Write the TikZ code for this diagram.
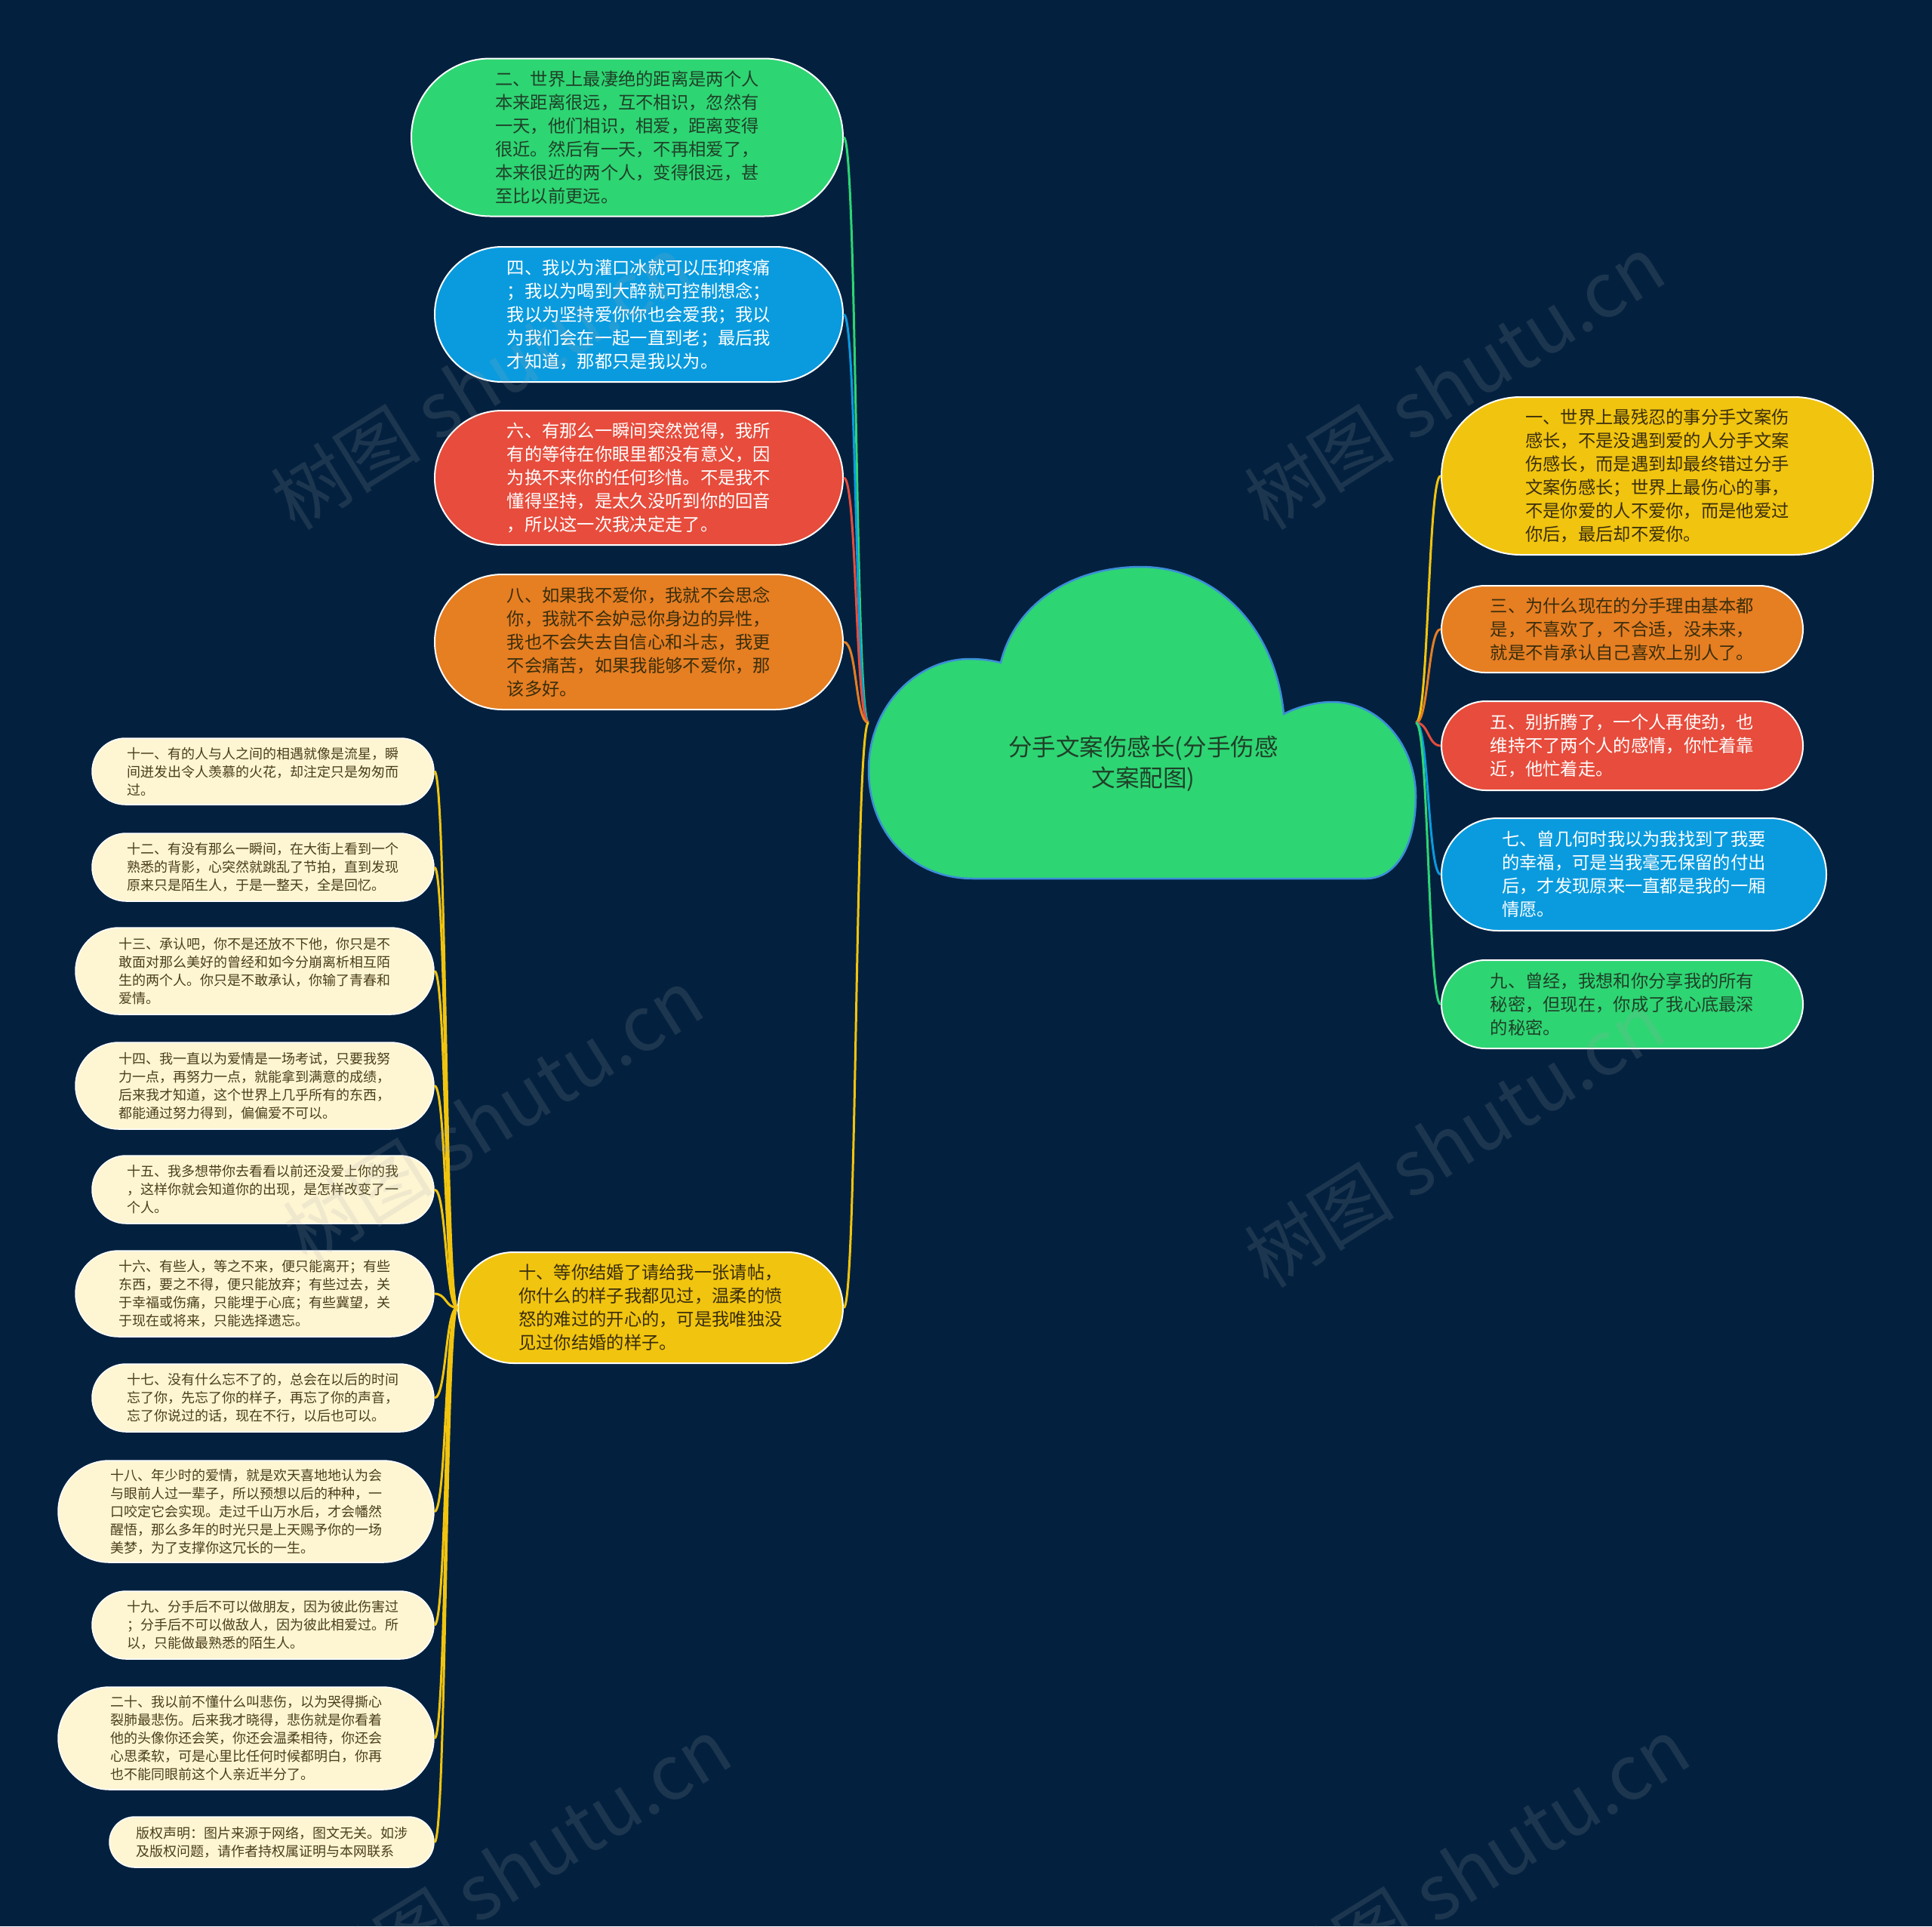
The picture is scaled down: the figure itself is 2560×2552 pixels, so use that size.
\documentclass[tikz,border=0pt]{standalone}
\usepackage{fontspec}
\setmainfont{Noto Sans CJK SC}
\usetikzlibrary{shapes.misc}
\definecolor{bg}{HTML}{03213F}
\definecolor{cgreen}{HTML}{2ED573}
\definecolor{cblue}{HTML}{0A9BDE}
\definecolor{cred}{HTML}{E74C3C}
\definecolor{corange}{HTML}{E67E22}
\definecolor{cyellow}{HTML}{F1C40F}
\definecolor{ccream}{HTML}{FEF5D3}
\definecolor{tgreen}{HTML}{1F4028}
\definecolor{tdark}{HTML}{3A2E0C}
\definecolor{tleaf}{HTML}{4A3F1A}
\definecolor{cloudedge}{HTML}{3C8ED8}
\definecolor{wmgray}{HTML}{A8A8A8}
\tikzset{
  box/.style={rounded rectangle, draw=white, line width=2pt, inner sep=0pt, align=left,
    font=\fontsize{23.3pt}{31pt}\selectfont},
  leaf/.style={rounded rectangle, draw=white, line width=1.5pt, fill=ccream, text=tleaf,
    inner sep=0pt, align=left, font=\fontsize{18pt}{24pt}\selectfont},
  conn/.style={line width=3pt},
  wm/.style={text=wmgray, opacity=0.16, font=\fontsize{100pt}{100pt}\selectfont, rotate=32},
}
\begin{document}
\begin{tikzpicture}[x=1pt,y=-1pt]
\useasboundingbox (0,0) rectangle (2560,2552);
\fill[bg] (0,0) rectangle (2560,2552);

% cloud
\draw[fill=cgreen, draw=cloudedge, line width=2.5pt]
 (1326,878)
 .. controls (1345,800) and (1420,751) .. (1512,751)
 .. controls (1610,751) and (1690,830) .. (1701,946)
 .. controls (1720,936) and (1745,930) .. (1765,930)
 .. controls (1830,930) and (1876,990) .. (1876,1055)
 .. controls (1876,1120) and (1850,1164) .. (1810,1164)
 -- (1290,1164)
 .. controls (1205,1164) and (1151,1100) .. (1151,1020)
 .. controls (1151,935) and (1215,873) .. (1285,873)
 .. controls (1300,873) and (1315,875) .. (1326,878) -- cycle;
\node[minimum width=725pt, minimum height=413pt, inner sep=0pt] (root) at (1513.5,957.5) {};
\node[align=center, text=tgreen, font=\fontsize{31.5pt}{41pt}\selectfont] (roottext) at (1515,1012)
  {分手文案伤感长(分手伤感\\文案配图)};

% left level-1
\node[box, fill=cgreen, text=tgreen, minimum width=572pt, minimum height=209pt] (n2) at (831,182)
 {二、世界上最凄绝的距离是两个人\\本来距离很远，互不相识，忽然有\\一天，他们相识，相爱，距离变得\\很近。然后有一天，不再相爱了，\\本来很近的两个人，变得很远，甚\\至比以前更远。};
\node[box, fill=cblue, text=white, minimum width=541pt, minimum height=179pt] (n4) at (846.5,416.5)
 {四、我以为灌口冰就可以压抑疼痛\\；我以为喝到大醉就可控制想念；\\我以为坚持爱你你也会爱我；我以\\为我们会在一起一直到老；最后我\\才知道，那都只是我以为。};
\node[box, fill=cred, text=white, minimum width=541pt, minimum height=178pt] (n6) at (846.5,633)
 {六、有那么一瞬间突然觉得，我所\\有的等待在你眼里都没有意义，因\\为换不来你的任何珍惜。不是我不\\懂得坚持，是太久没听到你的回音\\，所以这一次我决定走了。};
\node[box, fill=corange, text=tdark, minimum width=541pt, minimum height=179pt] (n8) at (846.5,850.5)
 {八、如果我不爱你，我就不会思念\\你，我就不会妒忌你身边的异性，\\我也不会失去自信心和斗志，我更\\不会痛苦，如果我能够不爱你，那\\该多好。};
\node[box, fill=cyellow, text=tdark, minimum width=510pt, minimum height=147pt] (n10) at (862,1732.5)
 {十、等你结婚了请给我一张请帖，\\你什么的样子我都见过，温柔的愤\\怒的难过的开心的，可是我唯独没\\见过你结婚的样子。};

% right level-1
\node[box, fill=cyellow, text=tdark, minimum width=572pt, minimum height=209pt] (n1) at (2196,630.5)
 {一、世界上最残忍的事分手文案伤\\感长，不是没遇到爱的人分手文案\\伤感长，而是遇到却最终错过分手\\文案伤感长；世界上最伤心的事，\\不是你爱的人不爱你，而是他爱过\\你后，最后却不爱你。};
\node[box, fill=corange, text=tdark, minimum width=479pt, minimum height=115pt] (n3) at (2149.5,833.5)
 {三、为什么现在的分手理由基本都\\是，不喜欢了，不合适，没未来，\\就是不肯承认自己喜欢上别人了。};
\node[box, fill=cred, text=white, minimum width=479pt, minimum height=118pt] (n5) at (2149.5,988)
 {五、别折腾了，一个人再使劲，也\\维持不了两个人的感情，你忙着靠\\近，他忙着走。};
\node[box, fill=cblue, text=white, minimum width=510pt, minimum height=149pt] (n7) at (2165,1158.5)
 {七、曾几何时我以为我找到了我要\\的幸福，可是当我毫无保留的付出\\后，才发现原来一直都是我的一厢\\情愿。};
\node[box, fill=cgreen, text=tgreen, minimum width=479pt, minimum height=117pt] (n9) at (2149.5,1330.5)
 {九、曾经，我想和你分享我的所有\\秘密，但现在，你成了我心底最深\\的秘密。};

% leaves
\node[leaf, minimum width=453pt, minimum height=88pt] (n11) at (348.5,1022)
 {十一、有的人与人之间的相遇就像是流星，瞬\\间迸发出令人羡慕的火花，却注定只是匆匆而\\过。};
\node[leaf, minimum width=453pt, minimum height=90pt] (n12) at (348.5,1149)
 {十二、有没有那么一瞬间，在大街上看到一个\\熟悉的背影，心突然就跳乱了节拍，直到发现\\原来只是陌生人，于是一整天，全是回忆。};
\node[leaf, minimum width=475pt, minimum height=115pt] (n13) at (337.5,1286.5)
 {十三、承认吧，你不是还放不下他，你只是不\\敢面对那么美好的曾经和如今分崩离析相互陌\\生的两个人。你只是不敢承认，你输了青春和\\爱情。};
\node[leaf, minimum width=475pt, minimum height=115pt] (n14) at (337.5,1438.5)
 {十四、我一直以为爱情是一场考试，只要我努\\力一点，再努力一点，就能拿到满意的成绩，\\后来我才知道，这个世界上几乎所有的东西，\\都能通过努力得到，偏偏爱不可以。};
\node[leaf, minimum width=453pt, minimum height=90pt] (n15) at (348.5,1576)
 {十五、我多想带你去看看以前还没爱上你的我\\，这样你就会知道你的出现，是怎样改变了一\\个人。};
\node[leaf, minimum width=475pt, minimum height=114pt] (n16) at (337.5,1714)
 {十六、有些人，等之不来，便只能离开；有些\\东西，要之不得，便只能放弃；有些过去，关\\于幸福或伤痛，只能埋于心底；有些冀望，关\\于现在或将来，只能选择遗忘。};
\node[leaf, minimum width=453pt, minimum height=90pt] (n17) at (348.5,1852)
 {十七、没有什么忘不了的，总会在以后的时间\\忘了你，先忘了你的样子，再忘了你的声音，\\忘了你说过的话，现在不行，以后也可以。};
\node[leaf, minimum width=498pt, minimum height=135pt] (n18) at (326,2002.5)
 {十八、年少时的爱情，就是欢天喜地地认为会\\与眼前人过一辈子，所以预想以后的种种，一\\口咬定它会实现。走过千山万水后，才会幡然\\醒悟，那么多年的时光只是上天赐予你的一场\\美梦，为了支撑你这冗长的一生。};
\node[leaf, minimum width=453pt, minimum height=90pt] (n19) at (348.5,2153)
 {十九、分手后不可以做朋友，因为彼此伤害过\\；分手后不可以做敌人，因为彼此相爱过。所\\以，只能做最熟悉的陌生人。};
\node[leaf, minimum width=498pt, minimum height=136pt] (n20) at (326,2303)
 {二十、我以前不懂什么叫悲伤，以为哭得撕心\\裂肺最悲伤。后来我才晓得，悲伤就是你看着\\他的头像你还会笑，你还会温柔相待，你还会\\心思柔软，可是心里比任何时候都明白，你再\\也不能同眼前这个人亲近半分了。};
\node[leaf, minimum width=430pt, minimum height=67pt] (nc) at (360,2440.5)
 {版权声明：图片来源于网络，图文无关。如涉\\及版权问题，请作者持权属证明与本网联系};

% connectors
\foreach \n/\c in {n2/cgreen, n4/cblue, n6/cred, n8/corange, n10/cyellow}
  \draw[conn, \c] (root.west) .. controls +(-18,0) and +(18,0) .. (\n.east);
\foreach \n/\c in {n1/cyellow, n3/corange, n5/cred, n7/cblue, n9/cgreen}
  \draw[conn, \c] (root.east) .. controls +(17,0) and +(-17,0) .. (\n.west);
\foreach \n in {n11,n12,n13,n14,n15,n16,n17,n18,n19,n20,nc}
  \draw[conn, cyellow] (n10.west) .. controls +(-16,0) and +(16,0) .. (\n.east);

% watermarks
\node[wm] (wm1) at (637,506) {树图 shutu.cn};
\node[wm] (wm2) at (1927,506) {树图 shutu.cn};
\node[wm] (wm3) at (653,1478) {树图 shutu.cn};
\node[wm] (wm4) at (1927,1510) {树图 shutu.cn};
\node[wm] (wm5) at (690,2470) {树图 shutu.cn};
\node[wm] (wm6) at (1960,2470) {树图 shutu.cn};
\end{tikzpicture}
\end{document}
